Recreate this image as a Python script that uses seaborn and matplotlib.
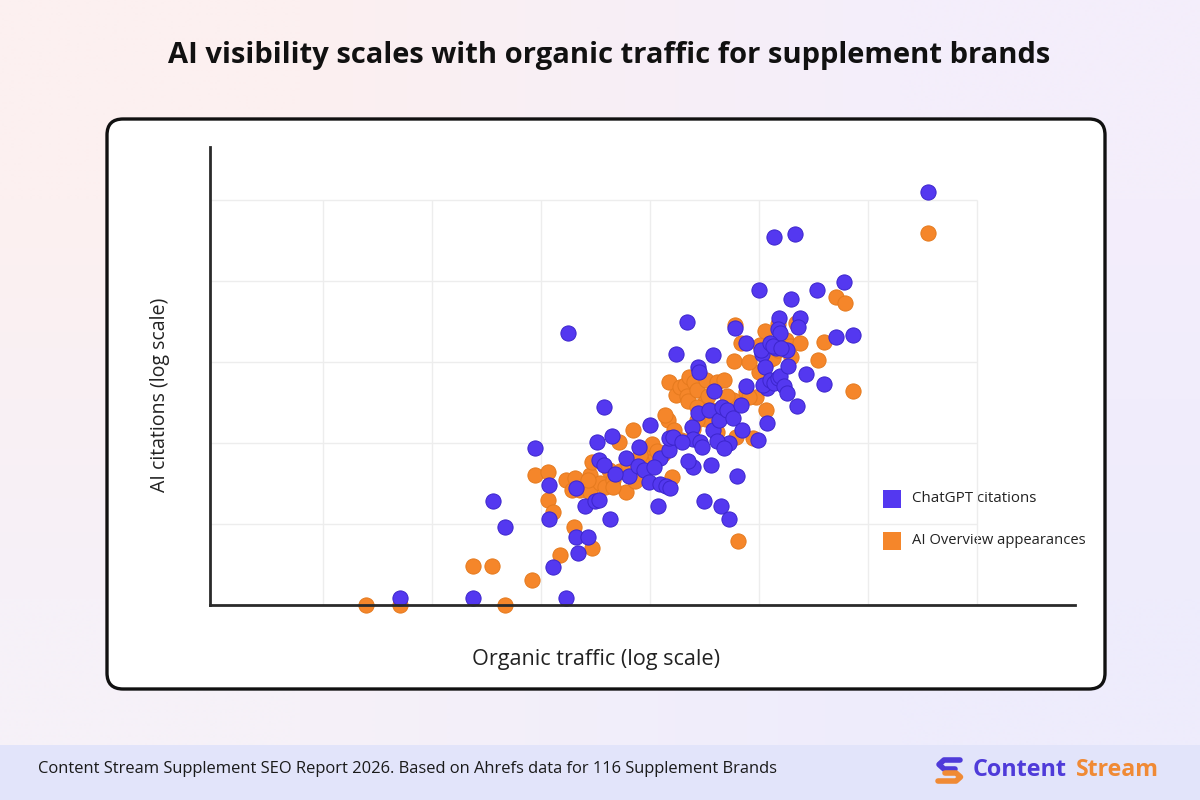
import numpy as np
import pandas as pd
import matplotlib.pyplot as plt
import seaborn as sns
from matplotlib.patches import FancyBboxPatch, Rectangle

# --- data (log-scale positions, grid units) ---
chatgpt_x = [6.55, 5.14, 5.33, 3.25, 1.70, 2.37, 3.23, 2.56, 2.67, 2.94,
             3.07, 3.07, 3.11, 3.32, 3.43, 3.32, 3.40, 3.49, 3.53, 3.63,
             3.58, 3.51, 3.53, 3.65, 3.78, 3.81, 3.89, 3.94, 4.00, 3.99,
             4.07, 4.09, 4.15, 4.18, 4.09, 4.17, 4.17, 4.21, 4.24, 4.34,
             4.44, 4.45, 4.58, 4.38, 4.39, 4.46, 4.48, 4.39, 4.35, 4.56,
             4.49, 4.44, 4.54, 4.59, 4.58, 4.63, 4.66, 4.71, 4.72, 4.76,
             4.83, 4.84, 4.88, 4.88, 4.78, 5.00, 5.03, 5.02, 5.05, 5.07,
             5.04, 5.10, 5.14, 5.17, 5.19, 5.23, 5.26, 5.18, 5.17, 5.19,
             5.10, 5.16, 5.13, 5.29, 5.38, 5.36, 5.35, 5.53, 5.60, 5.71,
             5.78, 5.86, 4.65, 4.72, 4.80, 4.99, 5.07, 4.61, 4.68, 4.04,
             3.58, 3.68, 5.26, 5.27, 5.43, 5.20, 3.34, 4.29, 3.90]
chatgpt_y = [5.10, 4.54, 4.58, 3.35, 0.09, 0.09, 0.09, 1.28, 0.96, 1.94,
             1.48, 1.06, 0.47, 0.84, 0.84, 1.44, 1.22, 1.28, 1.30, 1.06,
             2.44, 2.01, 1.79, 2.09, 1.81, 1.59, 1.72, 1.67, 2.22, 1.52,
             1.22, 1.49, 1.47, 1.44, 1.81, 1.91, 2.06, 2.07, 3.10, 3.49,
             2.94, 2.88, 3.09, 2.20, 2.05, 2.01, 1.95, 1.70, 1.78, 1.73,
             1.28, 2.37, 2.41, 2.64, 2.16, 2.28, 2.44, 2.41, 2.00, 2.31,
             2.47, 2.16, 2.70, 3.23, 3.42, 3.89, 3.10, 3.15, 2.94, 2.68,
             2.72, 2.78, 2.74, 2.80, 2.83, 2.70, 2.62, 3.54, 3.40, 3.35,
             3.23, 3.17, 3.19, 3.78, 3.54, 3.43, 2.46, 3.89, 2.73, 3.30,
             3.98, 3.33, 1.22, 1.06, 1.59, 2.04, 2.25, 2.02, 1.94, 1.70,
             1.73, 1.62, 3.14, 2.95, 2.85, 3.17, 0.64, 2.01, 1.95]

aio_x = [6.55, 1.39, 1.70, 2.67, 2.37, 2.55, 2.92, 3.17, 3.30, 3.47,
         2.94, 3.06, 3.06, 3.11, 3.23, 3.28, 3.36, 3.45, 3.45, 3.54,
         3.59, 3.62, 3.66, 3.78, 3.84, 3.82, 3.86, 3.96, 4.02, 3.98,
         4.16, 4.17, 4.20, 4.24, 4.27, 4.32, 4.36, 4.40, 4.34, 4.35,
         4.43, 4.51, 4.61, 4.68, 4.76, 4.78, 4.83, 4.88, 4.77, 4.79,
         4.81, 4.72, 4.61, 4.51, 4.57, 4.43, 4.39, 4.22, 4.28, 4.12,
         4.06, 4.14, 5.06, 4.97, 5.01, 5.09, 5.13, 5.17, 5.19, 5.25,
         5.28, 5.29, 5.34, 5.38, 5.54, 5.60, 5.71, 5.79, 5.86, 4.94,
         5.00, 5.05, 5.17, 4.91, 4.67, 4.50, 3.92, 3.72, 3.80, 3.31,
         3.71, 3.47, 3.66, 4.91, 5.11, 4.71, 4.43, 4.53, 3.91, 3.43]
aio_y = [4.59, 0.00, 0.00, 0.00, 0.48, 0.48, 0.31, 0.62, 0.96, 0.70,
         1.60, 1.64, 1.30, 1.15, 1.54, 1.42, 1.42, 1.60, 1.40, 1.51,
         1.46, 1.67, 1.54, 1.40, 2.16, 1.67, 1.53, 1.90, 1.98, 1.77,
         2.28, 2.75, 1.58, 2.59, 2.69, 2.72, 2.81, 2.75, 2.58, 2.52,
         2.65, 2.78, 2.75, 2.77, 2.53, 3.46, 3.23, 2.63, 3.01, 2.07,
         0.79, 2.37, 2.14, 2.30, 2.40, 2.28, 2.17, 2.16, 2.04, 1.86,
         1.90, 2.35, 2.41, 2.56, 3.21, 3.02, 3.05, 3.15, 3.25, 3.27,
         3.20, 3.06, 3.48, 3.23, 3.02, 3.25, 3.80, 3.73, 2.64, 2.06,
         2.88, 3.38, 3.47, 2.56, 2.44, 2.51, 1.79, 1.65, 1.74, 1.57,
         2.01, 1.77, 1.46, 3.00, 3.19, 2.58, 2.44, 2.58, 1.85, 1.54]

series_names = ["ChatGPT citations", "AI Overview appearances"]
series_colors = ["#5438F0", "#F5862A"]
grid_x = [1, 2, 3, 4, 5, 6, 7]
grid_y = [1, 2, 3, 4, 5]

chatgpt = pd.DataFrame({"traffic": chatgpt_x, "citations": chatgpt_y})
aio = pd.DataFrame({"traffic": aio_x, "citations": aio_y})

sns.set_theme(style="white")
plt.rcParams['font.family'] = ['Open Sans', 'DejaVu Sans']

fig = plt.figure(figsize=(12, 8), dpi=100)
renderer = fig.canvas.get_renderer()


def fit_width(txt, width_px):
    # shrink/grow a text so it spans roughly width_px pixels
    w = txt.get_window_extent(renderer=renderer).width
    txt.set_fontsize(txt.get_fontsize() * width_px / w)
    return txt


# background layer in pixel coordinates
bg = fig.add_axes([0, 0, 1, 1], zorder=-10)
grad = np.array([[[252, 240, 240], [244, 238, 251]],
                 [[246, 241, 248], [238, 236, 252]]]) / 255
bg.imshow(grad, extent=[0, 1200, 800, 0], aspect='auto', interpolation='bilinear')
bg.set_xlim(0, 1200)
bg.set_ylim(800, 0)
bg.axis('off')
bg.add_patch(Rectangle((0, 745), 1200, 55, color='#E2E4FA', lw=0))
bg.add_patch(FancyBboxPatch((107, 119), 998, 570, boxstyle='round,pad=0,rounding_size=16',
                            facecolor='white', edgecolor='#111111', lw=2.4))

# main scatter
ax = fig.add_axes([210 / 1200, 1 - 605 / 800, 865 / 1200, 458 / 800])
ax.set_facecolor('none')
ax.vlines(grid_x, 0, 5, color='#EDEDED', lw=1, zorder=0)
ax.hlines(grid_y, -0.04, 7, color='#EDEDED', lw=1, zorder=0)
sns.scatterplot(data=aio, x="traffic", y="citations", ax=ax, s=120,
                color=series_colors[1], edgecolor='#E57A1E', linewidth=0.7,
                clip_on=False, zorder=2)
sns.scatterplot(data=chatgpt, x="traffic", y="citations", ax=ax, s=120,
                color=series_colors[0], edgecolor='#3C25CC', linewidth=0.7,
                clip_on=False, zorder=3)
ax.set_xlim(-0.04, 7.9)
ax.set_ylim(0, 5.65)
ax.set_xticks([])
ax.set_yticks([])
ax.set_xlabel("")
ax.set_ylabel("")
for side in ['top', 'right']:
    ax.spines[side].set_visible(False)
for side in ['left', 'bottom']:
    ax.spines[side].set_color('#2A2A2A')
    ax.spines[side].set_linewidth(2)
    ax.spines[side].set_zorder(4)

# axis labels
fit_width(bg.text(596, 659, "Organic traffic (log scale)", ha='center', va='center',
                  fontsize=14, color='#222222'), 248)
ylab = bg.text(160, 395, "AI citations (log scale)", ha='center', va='center',
               rotation=90, fontsize=14, color='#222222')
ylab.set_fontsize(14 * 195 / ylab.get_window_extent(renderer=renderer).height)

# legend
for i, (name, col) in enumerate(zip(series_names, series_colors)):
    yc = 499 + i * 42
    bg.add_patch(Rectangle((883, yc - 9), 18, 18, color=col, lw=0))
    t = bg.text(912, yc, name, ha='left', va='center', fontsize=10.5, color='#222222')
    fit_width(t, [125, 174][i])

# title
fit_width(bg.text(609, 55, "AI visibility scales with organic traffic for supplement brands",
                  ha='center', va='center', fontsize=19, fontweight='bold',
                  color='#111111'), 879)

# footer
fit_width(bg.text(38, 769, "Content Stream Supplement SEO Report 2026. Based on Ahrefs data for 116 Supplement Brands",
                  ha='left', va='center', fontsize=11, color='#1A1A1A'), 745)
bg.plot([960, 944, 939, 944, 955], [760, 760, 764.5, 769, 769],
        color='#4F3BD9', lw=4, solid_capstyle='round', solid_joinstyle='round')
bg.plot([945, 956, 960.5, 956, 938], [773, 773, 777, 781, 781],
        color='#F08A35', lw=4, solid_capstyle='round', solid_joinstyle='round')
fit_width(bg.text(973, 770, "Content", ha='left', va='center', fontsize=17,
                  fontweight='bold', color='#4F3BD9'), 94)
fit_width(bg.text(1076, 770, "Stream", ha='left', va='center', fontsize=17,
                  fontweight='bold', color='#F08A35'), 83)

fig.savefig("out.png", dpi=100)
